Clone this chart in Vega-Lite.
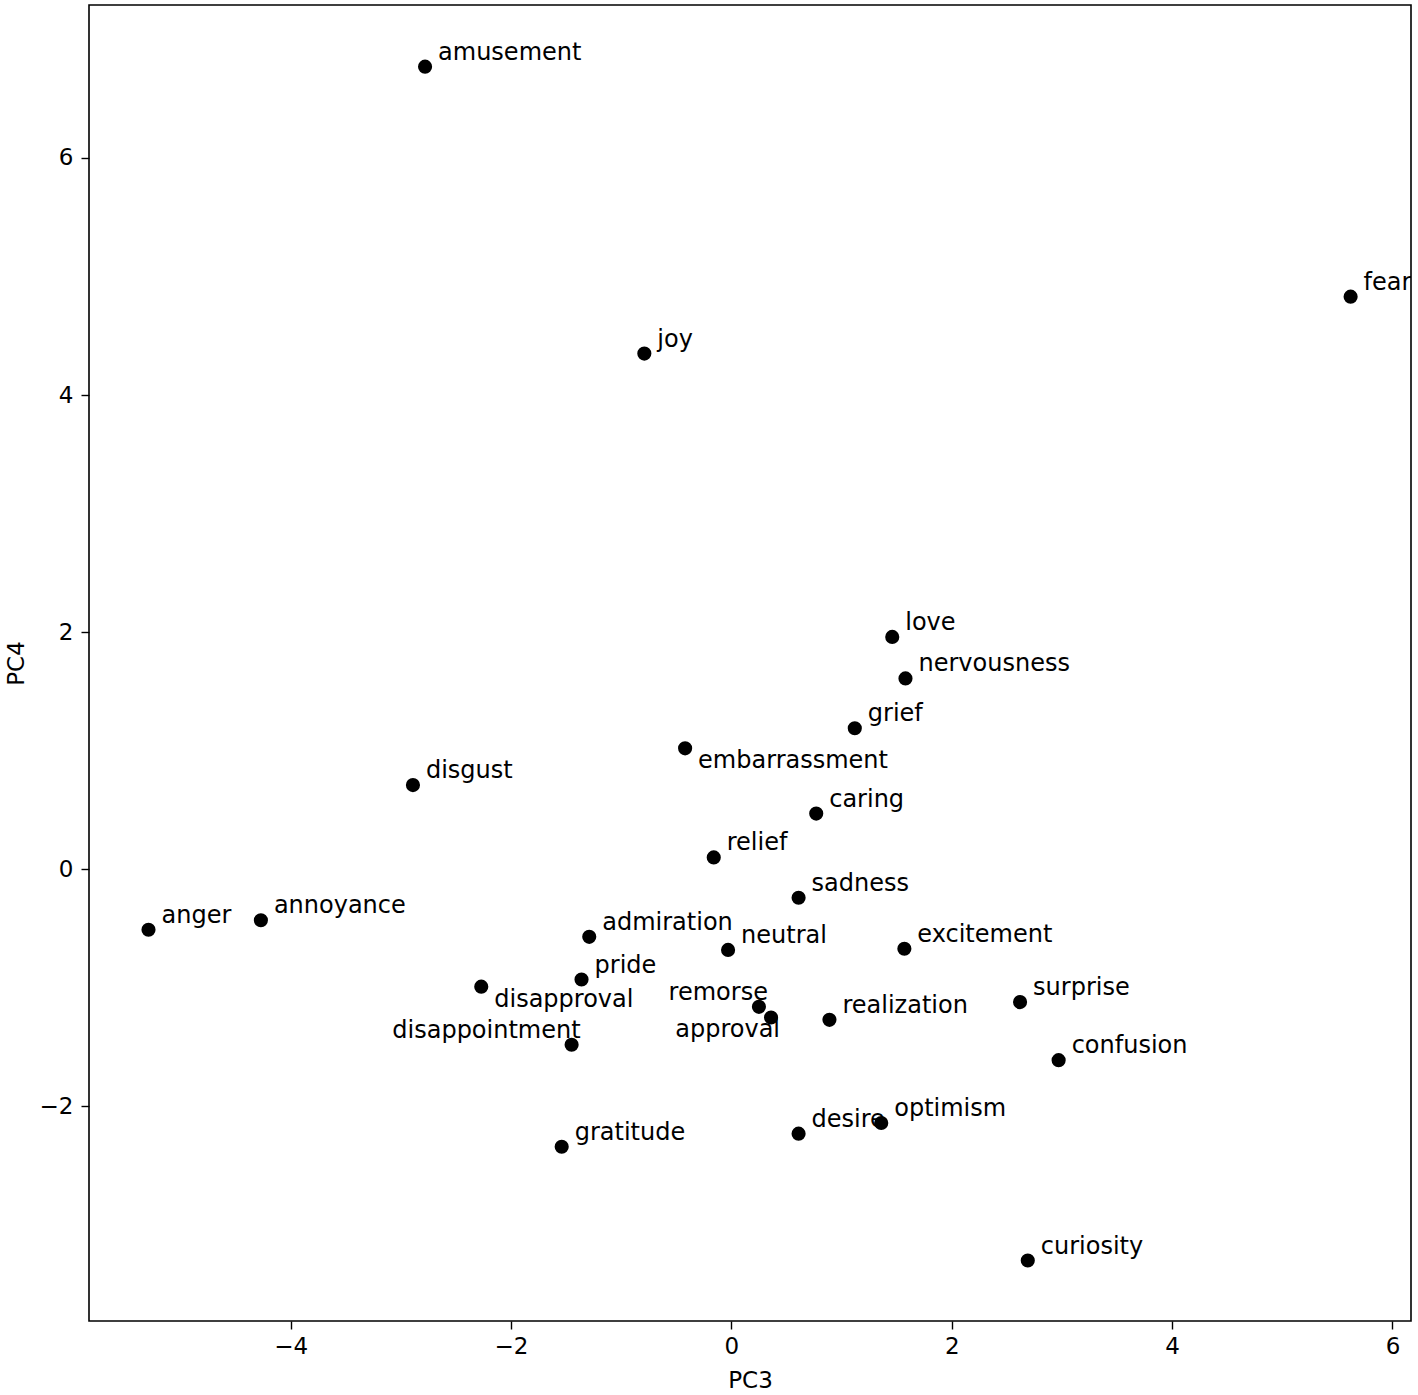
{
  "$schema": "https://vega.github.io/schema/vega-lite/v6.json",
  "autosize": "none",
  "width": 1322,
  "height": 1316,
  "padding": {"left": 89, "top": 5, "right": 7, "bottom": 74},
  "background": "white",
  "config": {
    "view": {"stroke": "black", "strokeWidth": 1.6},
    "font": "DejaVu Sans",
    "axis": {
      "grid": false,
      "domain": false,
      "tickColor": "black",
      "tickWidth": 1.4,
      "tickSize": 8,
      "labelFont": "DejaVu Sans",
      "labelFontSize": 23,
      "labelColor": "black",
      "titleFont": "DejaVu Sans",
      "titleFontSize": 23,
      "titleFontWeight": "normal",
      "titleColor": "black"
    }
  },
  "data": {
    "values": [
      {"emotion": "amusement", "PC3": -2.78, "PC4": 6.77},
      {"emotion": "fear", "PC3": 5.62, "PC4": 4.83},
      {"emotion": "joy", "PC3": -0.79, "PC4": 4.35},
      {"emotion": "love", "PC3": 1.46, "PC4": 1.96},
      {"emotion": "nervousness", "PC3": 1.58, "PC4": 1.61},
      {"emotion": "grief", "PC3": 1.12, "PC4": 1.19},
      {"emotion": "embarrassment", "PC3": -0.42, "PC4": 1.02},
      {"emotion": "disgust", "PC3": -2.89, "PC4": 0.71},
      {"emotion": "caring", "PC3": 0.77, "PC4": 0.47},
      {"emotion": "relief", "PC3": -0.16, "PC4": 0.10},
      {"emotion": "sadness", "PC3": 0.61, "PC4": -0.24},
      {"emotion": "anger", "PC3": -5.29, "PC4": -0.51},
      {"emotion": "annoyance", "PC3": -4.27, "PC4": -0.43},
      {"emotion": "admiration", "PC3": -1.29, "PC4": -0.57},
      {"emotion": "neutral", "PC3": -0.03, "PC4": -0.68},
      {"emotion": "excitement", "PC3": 1.57, "PC4": -0.67},
      {"emotion": "pride", "PC3": -1.36, "PC4": -0.93},
      {"emotion": "disapproval", "PC3": -2.27, "PC4": -0.99},
      {"emotion": "remorse", "PC3": 0.25, "PC4": -1.16},
      {"emotion": "approval", "PC3": 0.36, "PC4": -1.25},
      {"emotion": "realization", "PC3": 0.89, "PC4": -1.27},
      {"emotion": "surprise", "PC3": 2.62, "PC4": -1.12},
      {"emotion": "disappointment", "PC3": -1.45, "PC4": -1.48},
      {"emotion": "confusion", "PC3": 2.97, "PC4": -1.61},
      {"emotion": "optimism", "PC3": 1.36, "PC4": -2.14},
      {"emotion": "desire", "PC3": 0.61, "PC4": -2.23},
      {"emotion": "gratitude", "PC3": -1.54, "PC4": -2.34},
      {"emotion": "curiosity", "PC3": 2.69, "PC4": -3.30}
    ]
  },
  "encoding": {
    "x": {
      "field": "PC3", "type": "quantitative",
      "scale": {"domain": [-5.83, 6.168], "nice": false, "zero": false},
      "axis": {"values": [-4, -2, 0, 2, 4, 6], "title": "PC3", "labelPadding": 6, "titlePadding": 11}
    },
    "y": {
      "field": "PC4", "type": "quantitative",
      "scale": {"domain": [-3.81, 7.29], "nice": false, "zero": false},
      "axis": {"values": [-2, 0, 2, 4, 6], "title": "PC4", "labelPadding": 8, "titlePadding": 11}
    }
  },
  "layer": [
    {
      "mark": {"type": "point", "filled": true, "shape": "circle", "size": 200, "color": "black", "opacity": 1}
    },
    {
      "transform": [{"filter": {"not": {"field": "emotion", "oneOf": ["embarrassment", "disapproval", "disappointment", "remorse", "approval"]}}}],
      "mark": {"type": "text", "align": "left", "baseline": "alphabetic", "dx": 13, "dy": -7, "fontSize": 24, "color": "black", "clip": true},
      "encoding": {"text": {"field": "emotion"}}
    },
    {
      "transform": [{"filter": {"field": "emotion", "oneOf": ["embarrassment", "disapproval"]}}],
      "mark": {"type": "text", "align": "left", "baseline": "alphabetic", "dx": 13, "dy": 20, "fontSize": 24, "color": "black", "clip": true},
      "encoding": {"text": {"field": "emotion"}}
    },
    {
      "transform": [{"filter": {"field": "emotion", "oneOf": ["disappointment", "remorse"]}}],
      "mark": {"type": "text", "align": "right", "baseline": "alphabetic", "dx": 9, "dy": -7, "fontSize": 24, "color": "black", "clip": true},
      "encoding": {"text": {"field": "emotion"}}
    },
    {
      "transform": [{"filter": {"field": "emotion", "oneOf": ["approval"]}}],
      "mark": {"type": "text", "align": "right", "baseline": "alphabetic", "dx": 9, "dy": 20, "fontSize": 24, "color": "black", "clip": true},
      "encoding": {"text": {"field": "emotion"}}
    }
  ]
}
